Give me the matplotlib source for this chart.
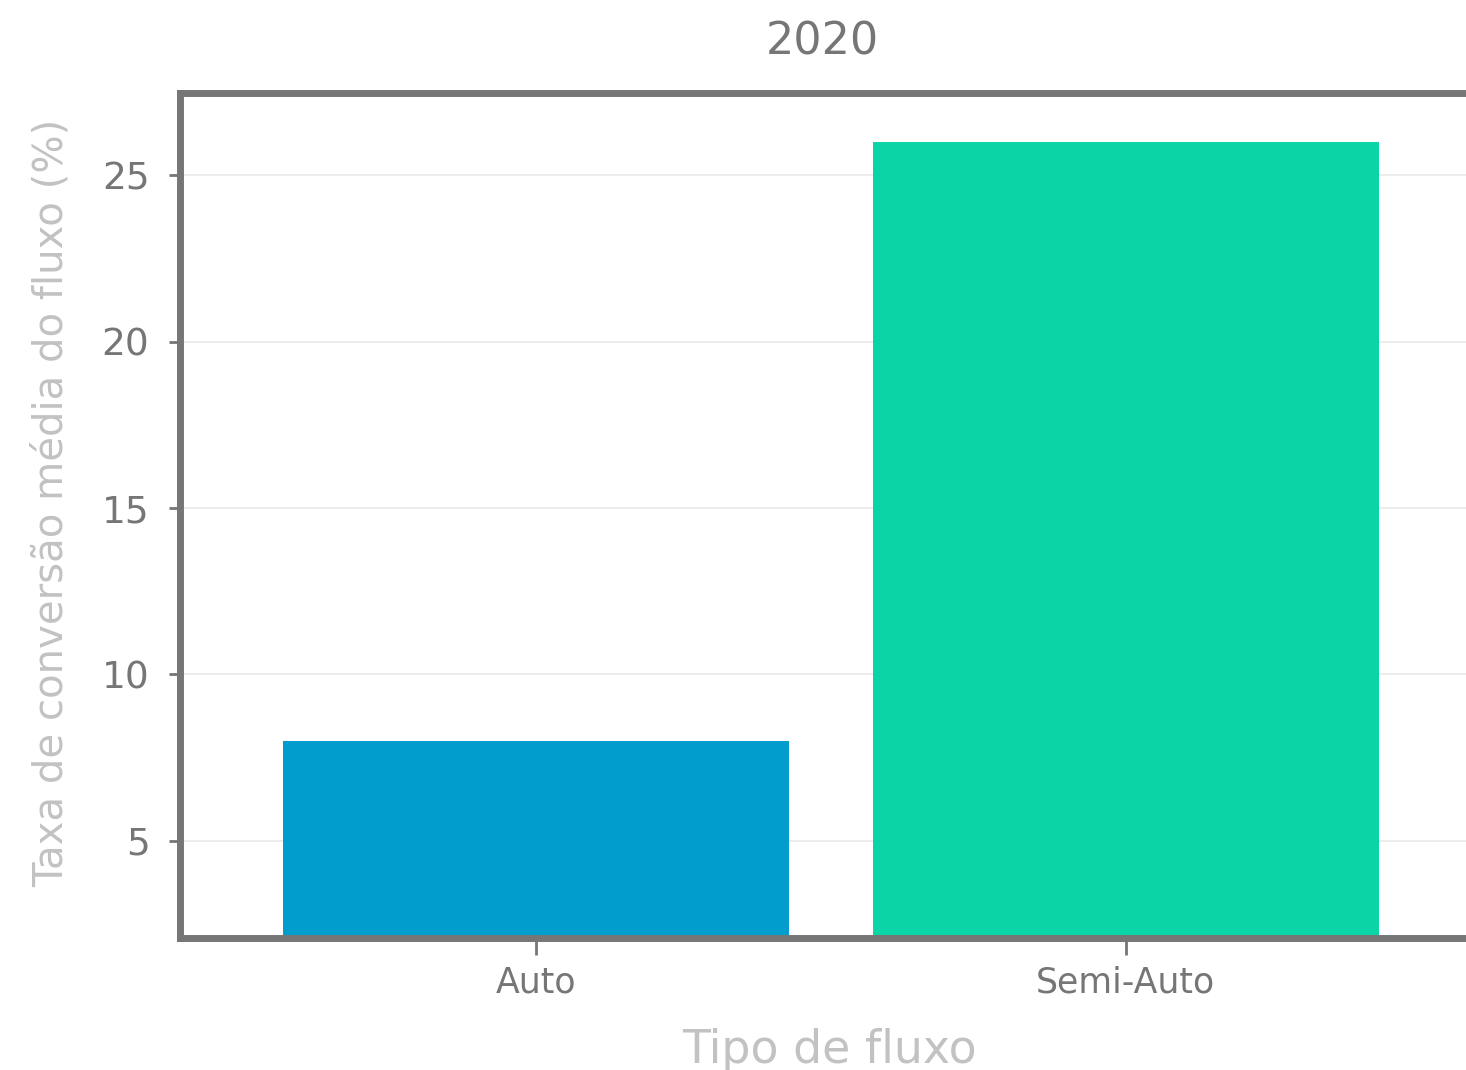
import matplotlib.pyplot as plt

# data
categories = ['Auto', 'Semi-Auto']
conversion = [8.0, 26.0]
bar_colors = ['#019dcc', '#0bd4a6']
y_ticks = [5, 10, 15, 20, 25]

plt.rcParams['font.family'] = ['DejaVu Sans']
gray = '#767676'

fig = plt.figure(figsize=(14.66, 10.70), dpi=100)
ax = fig.add_axes([180 / 1466, 132 / 1070, 1298 / 1466, 845 / 1070])

x = list(range(len(categories)))
ax.bar(x, conversion, width=0.858, color=bar_colors, zorder=2)

ax.set_xlim(-0.603, 1.597)
ax.set_ylim(2.08, 27.47)
ax.set_xticks(x)
ax.set_xticklabels(categories)
ax.set_yticks(y_ticks)

ax.grid(axis='y', color='#ebebeb', linewidth=1.3, zorder=0)
ax.set_axisbelow(True)

for side in ['left', 'top', 'bottom']:
    ax.spines[side].set_color(gray)
    ax.spines[side].set_linewidth(5)
ax.spines['right'].set_visible(False)

ax.tick_params(axis='y', colors=gray, labelsize=27, length=8, width=2, pad=14)
ax.tick_params(axis='x', colors=gray, labelsize=25, length=12, width=2, pad=8)

ax.set_title('2020', fontsize=32, color=gray, pad=28, x=0.495)
ax.set_xlabel('Tipo de fluxo', fontsize=33, color='#c2c2c2', labelpad=20)
ax.set_ylabel('Taxa de conversão média do fluxo (%)', fontsize=29, color='#c2c2c2', labelpad=22)
ax.yaxis.label.set_y(0.515)

plt.savefig('out.png', dpi=100)
